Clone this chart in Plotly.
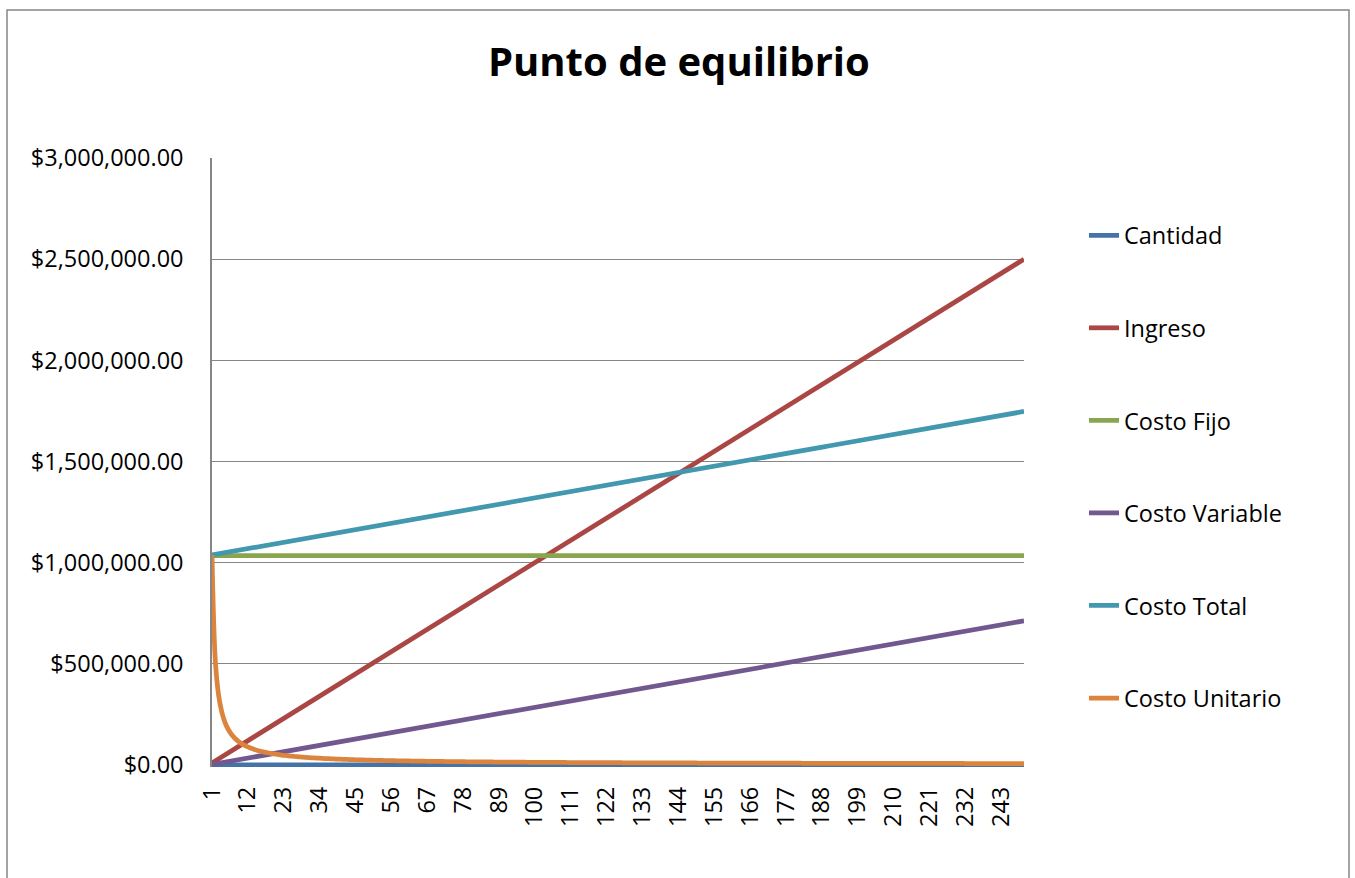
import plotly.graph_objects as go

# ---- Data (break-even model, 250 units) ----
cantidad = list(range(1, 251))            # Cantidad (units)
precio_unitario = 10000                    # Ingreso at 250 units = $2,500,000
costo_fijo = 1035000                       # flat green line
costo_var_unitario = 2850                  # Costo Variable at 250 units ≈ $712,500

ingreso = [q * precio_unitario for q in cantidad]
costo_fijo_serie = [costo_fijo for q in cantidad]
costo_variable = [q * costo_var_unitario for q in cantidad]
costo_total = [costo_fijo + v for v in costo_variable]
costo_unitario = [t / q for t, q in zip(costo_total, cantidad)]

tick_vals = list(range(1, 251, 11))
tick_text = [str(v) for v in tick_vals]
y_ticks = [0, 500000, 1000000, 1500000, 2000000, 2500000, 3000000]

series_names = ["Cantidad", "Ingreso", "Costo Fijo", "Costo Variable", "Costo Total", "Costo Unitario"]
series_values = [cantidad, ingreso, costo_fijo_serie, costo_variable, costo_total, costo_unitario]
series_colors = ["#4572A7", "#AA4643", "#89A54E", "#71588F", "#4198AF", "#DB843D"]
series_shapes = ["linear", "linear", "linear", "linear", "linear", "spline"]

FONT = "Open Sans"
FS = 23.5

fig = go.Figure()
for i, (name, vals, col, shp) in enumerate(zip(series_names, series_values, series_colors, series_shapes)):
    fig.add_trace(go.Scatter(
        x=cantidad, y=vals, mode="lines", name=name,
        line=dict(color=col, width=4.75, shape=shp, smoothing=1.0 if shp == "spline" else None),
        legendgroup=f"g{i}",
    ))

# plot area in pixels: left 212, right 1024, top 158, bottom (zero) 765
L, R, T, B = 212, 1024, 158, 765
W, H = 1355, 878
Y_MIN = -10000  # small headroom below zero so the Cantidad line is visible
px_per_unit = (B - T) / 3000000
B_ext = B + (-Y_MIN) * px_per_unit

def px_x(p):
    return (p - L) / (R - L)
def px_y(p):
    return (B_ext - p) / (B_ext - T)

fig.update_layout(
    width=W, height=H,
    margin=dict(l=L, r=W - R, t=T, b=H - B_ext),
    paper_bgcolor="white", plot_bgcolor="white",
    font=dict(family=FONT, size=FS, color="black"),
    title=dict(text="<b>Punto de equilibrio</b>", x=0.501, xanchor="center",
               y=1 - 62 / H, yanchor="middle", yref="container",
               font=dict(family=FONT, size=40, color="black")),
    showlegend=True,
    legend=dict(x=px_x(1084), xanchor="left", y=px_y(467), yanchor="middle",
                traceorder="grouped", tracegroupgap=59,
                font=dict(family=FONT, size=FS, color="black"),
                bgcolor="rgba(0,0,0,0)"),
    xaxis=dict(range=[1, 250], tickmode="array", tickvals=tick_vals, ticktext=tick_text,
               tickangle=-90, showgrid=False, zeroline=False, showline=False,
               ticks="", ticklabelstandoff=14,
               tickfont=dict(family=FONT, size=FS, color="black")),
    yaxis=dict(range=[Y_MIN, 3000000], tickmode="array", tickvals=y_ticks, tickformat="$,.2f",
               showgrid=True, gridcolor="#868686", gridwidth=1,
               zeroline=False, showline=True, linecolor="#868686", linewidth=1.5,
               ticks="", ticklabelstandoff=22,
               tickfont=dict(family=FONT, size=FS, color="black")),
    shapes=[dict(type="rect", xref="paper", yref="paper",
                 x0=px_x(7), x1=px_x(1349), y0=px_y(885), y1=px_y(10),
                 line=dict(color="#868686", width=1.5), fillcolor="rgba(0,0,0,0)",
                 layer="below")],
)

fig.write_html("out.html")
